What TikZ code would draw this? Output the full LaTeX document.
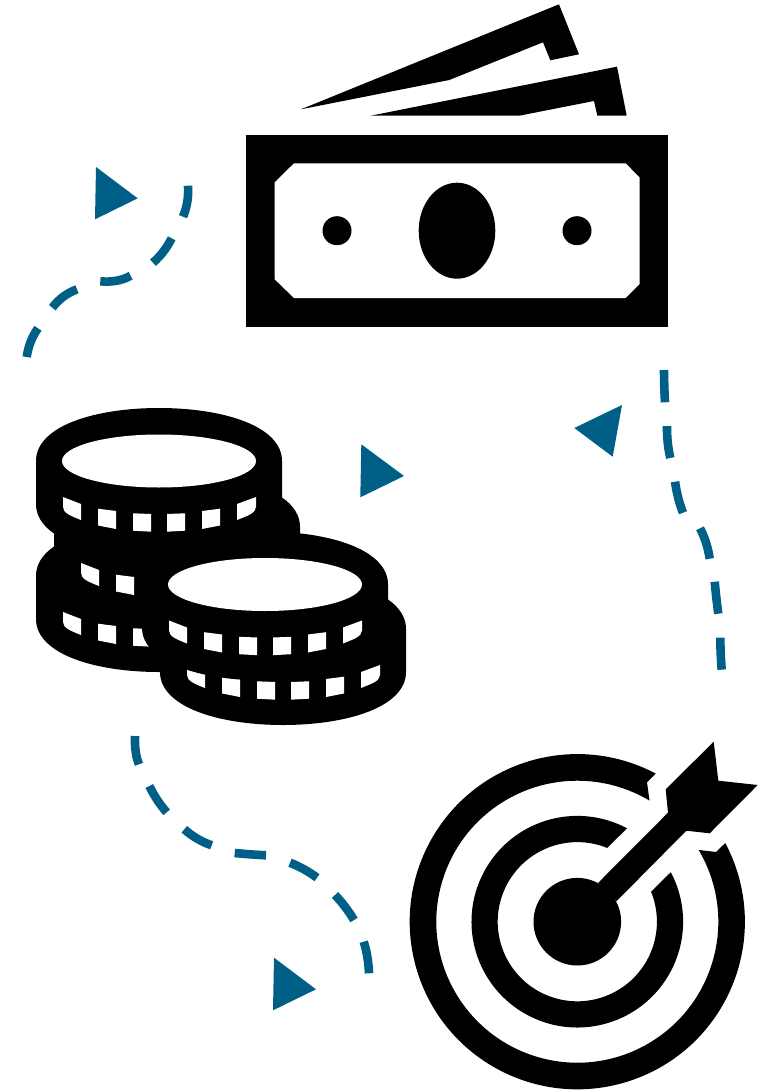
\documentclass[tikz,border=0pt]{standalone}
\usetikzlibrary{calc}
\definecolor{flowblue}{HTML}{005F86}
\tikzset{
  dashpiece/.style={draw=flowblue,line width=8.6pt,line cap=butt},
  pointer/.style={fill=flowblue},
  ink/.style={fill=black},
  paper/.style={fill=white}
}
% a dash through start, middle and end point, as one quadratic curve
\newcommand{\dashpc}[3]{\draw[dashpiece] #1 .. controls ($1.3333*#2-0.3333*#3$) and ($1.3333*#2-0.3333*#1$) .. #3;}
\newcommand{\coinbody}[2]{\begin{scope}[shift={(#1,#2)}]
  \fill[ink] (-123,0) .. controls (-123,-35) and (-64,-53) .. (0,-53) .. controls (64,-53) and (123,-35) .. (123,0) -- (123,43)
     .. controls (123,78) and (64,96) .. (0,96) .. controls (-64,96) and (-123,78) .. (-123,43) -- cycle;
\end{scope}}
\newcommand{\coinface}[2]{\fill[paper] (#1,#2) ellipse[x radius=97pt,y radius=26.5pt];}
\newcommand{\wina}{\fill[paper] (-96,36) -- (-78,43) -- (-78,59) .. controls (-88,55) and (-96,52) .. (-96,46) -- cycle;}
\newcommand{\winb}{\fill[paper] (-61,47.7) -- (-43,50) -- (-43,68) -- (-61,64.5) -- cycle;}
\newcommand{\winc}{\fill[paper] (-26,52.3) -- (-8,53) -- (-8,70.7) -- (-26,69.7) -- cycle;}
\newcommand{\wind}{\fill[paper] (8,53) -- (26,52.3) -- (26,69.7) -- (8,70.7) -- cycle;}
\newcommand{\wine}{\fill[paper] (43,50) -- (61,47.7) -- (61,64.5) -- (43,68) -- cycle;}
\newcommand{\winf}{\fill[paper] (78,43) -- (97,36) -- (97,46) .. controls (97,52) and (88,55) .. (78,59) -- cycle;}
\newcommand{\winall}{\wina\winb\winc\wind\wine\winf}
\begin{document}
\begin{tikzpicture}[x=1pt,y=1pt,yscale=-1]
\useasboundingbox (0,0) rectangle (777,1091);
\fill[white] (0,0) rectangle (777,1091);

% banknotes
\fill[ink] (301,109.3) -- (559,4.3) -- (579,54.3) -- (550.3,60.3) -- (543,42.3) -- (449.3,80) -- cycle;
\fill[ink] (370.7,115.7) -- (617,66.7) -- (626.7,115.7) -- (597.3,115.7) -- (594,101) -- (519.3,115.7) -- cycle;
\fill[ink] (246,135) rectangle (668.3,326.7);
\fill[paper] (294,163.3) -- (625.7,163.3) -- (639.7,177.7) -- (639.7,284) -- (625.7,298) -- (294,298) -- (274.7,279.3) -- (274.7,182.3) -- cycle;
\fill[ink] (457,230.7) ellipse[x radius=38.3pt,y radius=48pt];
\fill[ink] (337,230.7) circle[radius=14.5pt];
\fill[ink] (577,230.7) circle[radius=14.5pt];

% coins
\coinbody{159}{576}
\coinbody{177}{527}
\coinbody{159}{461}
\coinbody{283}{629}
\begin{scope}[shift={(159,461)}]\winall\end{scope}
\begin{scope}[shift={(177,527)}]\wina\winb\end{scope}
\begin{scope}[shift={(159,576)}]\wina\winb\winc\end{scope}
\begin{scope}[shift={(283,629)}]\winall\end{scope}
\coinbody{265}{584.5}
\begin{scope}[shift={(265,584.5)}]\winall\end{scope}
\coinface{159}{461}
\coinface{265}{584.5}

% target
\begin{scope}[shift={(577.3,921.7)}]
  \fill[ink] (-62.1:167.6pt) arc[start angle=-62.1,end angle=-388,radius=167.6pt]
     -- (138.7,-69.7) -- (-30.6:141pt) arc[start angle=-390.6,end angle=-59.2,radius=141pt] -- (69.7,-139.4) -- cycle;
  \fill[ink] (-62:105.8pt) arc[start angle=-62,end angle=-387.9,radius=105.8pt]
     -- (-22.1:79.6pt) arc[start angle=-382.1,end angle=-67.9,radius=79.6pt] -- cycle;
  \fill[ink] (0,0) circle[radius=43.8pt];
\end{scope}
\fill[ink] (598.3,882.7) -- (668,812.7) -- (665.7,789.3) -- (713.7,741.7) -- (718.3,780.7) -- (757.7,785) -- (709.7,833.3) -- (686.3,830.7) -- (616.7,901) -- cycle;

% pointers
\fill[pointer] (96,167) -- (137.7,198.3) -- (95,219.3) -- cycle;
\fill[pointer] (361.3,444.3) -- (404,476) -- (360.3,497.3) -- cycle;
\fill[pointer] (622,405) -- (574.3,428) -- (612.7,456.7) -- cycle;
\fill[pointer] (274,957.7) -- (316,989.3) -- (273,1010.3) -- cycle;

% dashed route 1
\dashpc{(188,185.7)}{(187.3,201.7)}{(183,216.7)}
\dashpc{(171.7,238.3)}{(163.3,251.7)}{(153,262.7)}
\dashpc{(130.7,275.7)}{(116.7,280.7)}{(100.3,281.3)}
\dashpc{(77,289.3)}{(63.3,296.7)}{(52.3,307.7)}
\dashpc{(38,328.3)}{(30.7,341.7)}{(26.7,357)}
% dashed route 2
\dashpc{(664,370)}{(664.3,386.7)}{(665,402.3)}
\dashpc{(667,426)}{(667.7,442.3)}{(670.3,458)}
\dashpc{(675,481.7)}{(678.3,498.3)}{(683,512.7)}
\dashpc{(700,528.3)}{(706,542.7)}{(709.7,558.7)}
\dashpc{(714.7,581.7)}{(716.3,597.7)}{(718.3,613.7)}
\dashpc{(720.3,637.7)}{(720.7,653.7)}{(721.7,669.7)}
% dashed route 3
\dashpc{(135,736)}{(135.7,751.7)}{(139,764.3)}
\dashpc{(149.3,786)}{(157.3,800)}{(166.7,812.3)}
\dashpc{(184.3,829.3)}{(197.3,838.7)}{(211.7,845.3)}
\dashpc{(234.7,853)}{(250,854.3)}{(266,855.3)}
\dashpc{(290,862.7)}{(304,869.3)}{(317,877.7)}
\dashpc{(335,895)}{(345,906.7)}{(354,920)}
\dashpc{(363.7,941.7)}{(367.3,956.7)}{(369,973.3)}
\end{tikzpicture}
\end{document}
